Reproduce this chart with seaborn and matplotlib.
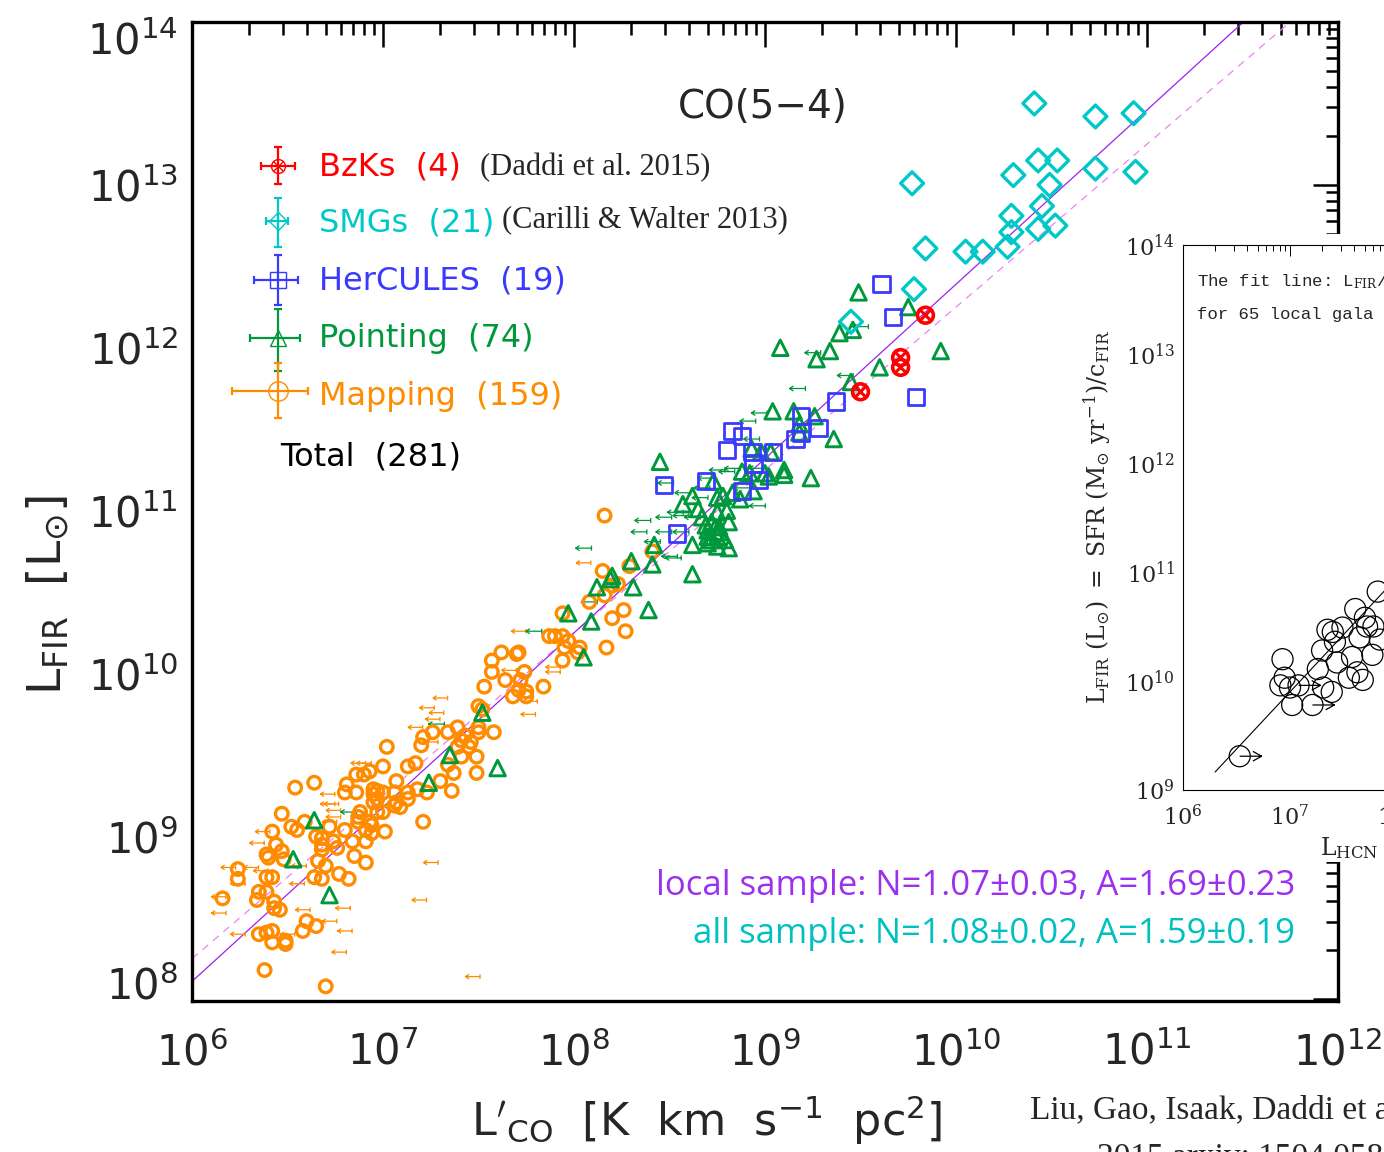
import numpy as np
import matplotlib
matplotlib.use("Agg")
import matplotlib.pyplot as plt
import seaborn as sns
import pandas as pd
from matplotlib.path import Path
from matplotlib.ticker import LogLocator, NullFormatter

sns.set_style("white")
plt.rcParams["font.family"] = ["DejaVu Sans"]
plt.rcParams["mathtext.fontset"] = "dejavuserif"

# ---------------- data (log10 values) ----------------
smg_lco = [10.41, 10.73, 10.93, 9.77, 10.43, 10.53, 10.30, 10.49, 10.73, 10.94, 10.29,
           10.45, 10.43, 10.52, 10.29, 10.27, 10.05, 10.14, 9.84, 9.78, 9.45]
smg_lfir = [13.50, 13.42, 13.44, 13.01, 13.15, 13.15, 13.06, 13.00, 13.10, 13.08, 12.81,
            12.87, 12.73, 12.75, 12.71, 12.62, 12.59, 12.59, 12.61, 12.36, 12.16]

bzk_lco = [9.84, 9.71, 9.71, 9.50]
bzk_lfir = [12.20, 11.94, 11.88, 11.73]

her_lco = [9.61, 9.67, 9.79, 9.37, 9.28, 9.19, 9.16, 9.04, 8.83, 8.88, 8.80, 8.93, 8.94,
           8.97, 8.69, 8.47, 8.88, 8.54, 9.19]
her_lfir = [12.39, 12.19, 11.70, 11.67, 11.51, 11.58, 11.44, 11.36, 11.49, 11.46, 11.37,
            11.36, 11.29, 11.19, 11.18, 11.16, 11.12, 10.86, 11.48]

pnt_lco = [9.49, 9.75, 9.39, 9.46, 9.08, 9.34, 9.27, 9.92, 9.60, 9.45, 9.04, 9.15, 9.26,
           9.18, 9.18, 9.36, 8.45, 8.93, 8.98, 9.03, 8.88, 8.92, 9.00, 9.02, 9.10, 9.10,
           9.24, 8.73, 8.62, 8.57, 8.75, 8.78, 8.83, 8.94, 8.80, 8.75, 8.67, 8.72, 8.74,
           8.76, 8.81, 8.70, 8.62, 8.70, 8.75, 8.81, 8.75, 8.70, 8.42, 8.62, 8.41, 8.30,
           8.12, 8.19, 8.31, 8.39, 7.97, 8.09, 8.05, 7.52, 7.35, 7.60, 7.24, 6.64, 6.53,
           6.72, 8.20, 8.76, 8.72, 8.79, 8.65, 8.87, 8.69]
pnt_lfir = [12.34, 12.25, 12.09, 12.11, 12.00, 11.98, 11.93, 11.98, 11.88, 11.79, 11.61,
            11.61, 11.58, 11.53, 11.48, 11.44, 11.30, 11.38, 11.36, 11.36, 11.24, 11.23,
            11.23, 11.21, 11.25, 11.22, 11.20, 11.18, 11.09, 11.04, 11.08, 11.09, 11.11,
            11.12, 11.00, 10.99, 10.96, 10.93, 10.90, 10.90, 10.93, 10.88, 10.79, 10.80,
            10.78, 10.77, 10.84, 10.84, 10.79, 10.61, 10.67, 10.69, 10.53, 10.58, 10.53,
            10.39, 10.37, 10.32, 10.10, 9.76, 9.50, 9.42, 9.33, 9.10, 8.86, 8.64, 10.60,
            10.87, 10.82, 10.82, 11.01, 11.07, 10.91]

map_lco = [8.16, 8.41, 8.15, 8.29, 8.16, 8.20, 8.23, 8.08, 7.94, 8.20, 8.26, 8.27, 8.17,
           7.87, 7.90, 7.94, 7.97, 7.95, 8.03, 8.02, 7.94, 7.84, 7.71, 7.70, 7.62, 7.57,
           7.57, 7.74, 7.64, 7.72, 7.53, 7.71, 7.75, 7.68, 7.75, 7.50, 7.52, 7.58, 7.50,
           7.50, 7.39, 7.34, 7.26, 7.21, 7.20, 7.17, 7.13, 7.00, 7.02, 7.43, 7.46, 7.41,
           7.39, 7.45, 7.41, 7.34, 7.37, 7.49, 7.49, 7.36, 7.30, 7.23, 7.18, 7.13, 7.13,
           7.07, 7.07, 7.09, 7.06, 7.06, 6.95, 6.95, 6.97, 6.97, 6.95, 7.00, 7.00, 6.81,
           6.80, 6.86, 6.86, 6.90, 6.93, 6.88, 6.87, 6.93, 6.94, 6.97, 7.01, 6.91, 6.84,
           6.91, 6.94, 6.87, 6.72, 6.80, 6.76, 6.85, 6.91, 6.82, 6.77, 6.74, 6.68, 6.68,
           6.68, 6.66, 6.70, 6.64, 6.68, 6.65, 6.52, 6.55, 6.59, 6.64, 6.54, 6.47, 6.42,
           6.44, 6.39, 6.40, 6.48, 6.47, 6.39, 6.42, 6.39, 6.35, 6.34, 6.43, 6.43, 6.46,
           6.24, 6.24, 6.16, 6.60, 6.58, 6.65, 6.42, 6.39, 6.35, 6.49, 6.49, 6.42, 6.38,
           6.70, 7.21]
map_lfir = [10.97, 10.75, 10.63, 10.66, 10.48, 10.54, 10.55, 10.44, 10.37, 10.34, 10.39,
            10.26, 10.16, 10.23, 10.23, 10.23, 10.20, 10.16, 10.16, 10.13, 10.08, 9.92,
            10.13, 10.12, 10.13, 10.08, 10.01, 10.01, 9.96, 9.96, 9.92, 9.90, 9.89, 9.86,
            9.86, 9.80, 9.78, 9.64, 9.67, 9.64, 9.67, 9.64, 9.64, 9.61, 9.56, 9.45, 9.43,
            9.43, 9.55, 9.62, 9.58, 9.59, 9.55, 9.55, 9.49, 9.44, 9.39, 9.49, 9.39, 9.28,
            9.34, 9.27, 9.29, 9.27, 9.23, 9.34, 9.21, 9.18, 9.19, 9.27, 9.29, 9.26, 9.28,
            9.23, 9.21, 9.27, 9.15, 9.32, 9.27, 9.27, 9.38, 9.38, 9.40, 9.15, 9.12, 9.09,
            9.07, 9.15, 9.03, 8.97, 8.97, 9.04, 9.02, 9.09, 9.06, 9.04, 8.93, 8.88, 8.84,
            8.74, 8.77, 8.97, 8.99, 8.95, 8.92, 8.85, 8.82, 8.75, 8.74, 9.00, 9.06, 9.04,
            9.09, 9.33, 9.30, 9.14, 9.03, 8.95, 8.89, 8.87, 8.86, 8.91, 8.75, 8.75, 8.66,
            8.66, 8.61, 8.60, 8.56, 8.55, 8.80, 8.74, 8.62, 8.48, 8.42, 8.45, 8.42, 8.41,
            8.40, 8.36, 8.34, 8.35, 8.18, 8.08, 9.09]

map_ul_lco = [8.05, 7.71, 7.89, 7.89, 7.66, 7.77, 7.76, 7.30, 7.23, 7.28, 7.26, 7.17, 7.25,
              6.87, 6.90, 6.71, 6.71, 6.73, 6.74, 6.74, 6.72, 6.37, 6.34, 6.19, 6.31, 6.36,
              6.24, 6.14, 6.14, 6.24, 6.56, 6.55, 6.58, 6.50, 6.72, 6.80, 6.79, 6.77, 7.25,
              7.19, 7.47]
map_ul_lfir = [10.68, 10.26, 10.04, 10.01, 10.02, 9.83, 9.75, 9.85, 9.79, 9.76, 9.72, 9.67,
               9.58, 9.45, 9.45, 9.26, 9.20, 9.20, 9.16, 9.12, 9.09, 9.03, 8.96, 8.81, 8.81,
               8.79, 8.71, 8.63, 8.53, 8.40, 8.82, 8.71, 8.55, 8.40, 8.48, 8.42, 8.56, 8.29,
               8.84, 8.61, 8.14]

pnt_ul_lco = [8.05, 8.36, 8.47, 8.53, 8.47, 8.34, 8.41, 8.50, 8.08, 7.79, 7.28, 6.82, 9.25,
              9.42, 9.17, 8.97, 8.91, 8.93, 8.96, 8.80, 8.83, 8.75, 8.88, 8.96, 8.67, 8.57,
              8.52, 9.50, 8.69, 8.66, 8.56, 8.62, 8.56, 8.48]
pnt_ul_lfir = [10.77, 10.94, 10.96, 10.99, 10.87, 10.87, 10.81, 10.72, 10.44, 10.26, 9.69,
               9.15, 11.97, 11.83, 11.75, 11.60, 11.55, 11.44, 11.26, 11.24, 11.26, 11.25,
               11.14, 11.03, 11.14, 11.11, 10.71, 12.13, 11.20, 11.08, 10.97, 10.96, 10.87,
               11.17]

fit_local = (1.07, 1.69)   # N, A  (solid)
fit_guide = (1.00, 2.25)   # dashed guide line

# inset (Gao & Solomon 2004 HCN panel)
hcn_lx = [6.53, 6.93, 6.91, 6.95, 7.00, 7.02, 7.21, 7.08, 7.26, 7.31, 7.39, 7.30, 7.35,
          7.42, 7.49, 7.44, 7.58, 7.55, 7.61, 7.65, 7.63, 7.68, 7.70, 7.77, 7.78, 7.82,
          7.84, 7.72, 7.40]
hcn_ly = [9.31, 10.20, 9.96, 10.03, 9.94, 9.78, 9.78, 9.96, 10.11, 9.94, 9.90, 10.28,
          10.47, 10.36, 10.49, 10.17, 10.22, 10.03, 10.66, 10.40, 10.08, 10.01, 10.58,
          10.24, 10.50, 10.82, 10.38, 10.50, 10.45]
hcn_lim_lx = [6.53, 7.21, 7.08]
hcn_lim_ly = [9.31, 9.78, 9.96]
hcn_fit = (1.05, 2.55)

legend_names = ["BzKs  (4)", "SMGs  (21)", "HerCULES  (19)", "Pointing  (74)", "Mapping  (159)"]

ORANGE = "#FF8C00"
GREEN = "#00983C"
BLUE = "#3A3AFF"
CYAN = "#00C8C8"
RED = "#FF0000"
PURPLE = "#A020F0"
VIOLET = "#EE82EE"

W, H = 1384, 1152
fig = plt.figure(figsize=(W / 100, H / 100), dpi=100)

ax = fig.add_axes([192 / W, 1 - 1001 / H, (1338 - 192) / W, (1001 - 22) / H])
ax.set_xscale("log")
ax.set_yscale("log")

# custom markers
arrow_path = Path([(1, -0.32), (1, 0.32), (1, 0), (-1, 0), (-0.5, 0.32), (-1, 0), (-0.5, -0.32)],
                  [Path.MOVETO, Path.LINETO, Path.MOVETO, Path.LINETO, Path.MOVETO, Path.LINETO, Path.LINETO])
rarrow_path = Path([(0, 0), (1, 0), (0.6, 0.22), (1, 0), (0.6, -0.22)],
                   [Path.MOVETO, Path.LINETO, Path.MOVETO, Path.LINETO, Path.LINETO])


def scat(a, lx, ly, marker, s, color, lw, fill=False, z=3):
    df = pd.DataFrame({"x": 10 ** np.asarray(lx, float), "y": 10 ** np.asarray(ly, float)})
    sns.scatterplot(data=df, x="x", y="y", ax=a, marker=marker, s=s, color=color,
                    linewidth=lw, legend=False, zorder=z)
    coll = a.collections[-1]
    coll.set_facecolor(color if fill else "none")
    coll.set_edgecolor(color)
    coll.set_linewidth(lw)


# fit lines
xs = np.array([1e6, 1e12])
for (n, a0), col, ls, lw in [(fit_guide, VIOLET, (0, (6, 5)), 0.9), (fit_local, PURPLE, "-", 0.9)]:
    ys = 10 ** (n * np.log10(xs) + a0)
    sns.lineplot(x=xs, y=ys, ax=ax, color=col, linestyle=ls, linewidth=lw, zorder=2)

scat(ax, map_ul_lco, map_ul_lfir, arrow_path, 110, ORANGE, 0.9, z=2)
scat(ax, pnt_ul_lco, pnt_ul_lfir, arrow_path, 130, GREEN, 0.9, z=2)
scat(ax, map_lco, map_lfir, "o", 82, ORANGE, 2.4)
scat(ax, pnt_lco, pnt_lfir, "^", 125, GREEN, 2.1)
scat(ax, her_lco, her_lfir, "s", 135, BLUE, 2.0)
scat(ax, smg_lco, smg_lfir, "D", 135, CYAN, 2.4)
scat(ax, bzk_lco, bzk_lfir, "o", 130, RED, 2.6)
scat(ax, bzk_lco, bzk_lfir, "x", 50, RED, 2.2)

ax.set_xlim(1e6, 1e12)
ax.set_ylim(10 ** 7.99, 1e14)
ax.set_xlabel("")
ax.set_ylabel("")
ax.set_xticks([10.0 ** k for k in range(6, 13)])
ax.set_xticklabels([r"$\mathsf{10^{%d}}$" % k for k in range(6, 13)])
ax.set_yticks([10.0 ** k for k in range(8, 15)])
ax.set_yticklabels([r"$\mathsf{10^{%d}}$" % k for k in range(8, 15)])
ax.xaxis.set_minor_locator(LogLocator(base=10, subs=np.arange(2, 10)))
ax.yaxis.set_minor_locator(LogLocator(base=10, subs=np.arange(2, 10)))
ax.xaxis.set_minor_formatter(NullFormatter())
ax.yaxis.set_minor_formatter(NullFormatter())
ax.tick_params(which="both", direction="in", top=True, right=True, width=1.8, color="black")
ax.tick_params(which="major", length=18, labelsize=30)
ax.tick_params(which="minor", length=9)
ax.tick_params(axis="x", which="major", pad=22)
ax.tick_params(axis="y", which="major", pad=10)
ylabs = ax.yaxis.get_majorticklabels()
ylabs[0].set_verticalalignment("baseline")
ylabs[-1].set_verticalalignment("top")
for sp in ax.spines.values():
    sp.set_linewidth(2.4)
    sp.set_color("black")

# cover box behind inset
cover = fig.add_axes([1065 / W, 1 - 862 / H, (W - 1065) / W + 0.02, (862 - 234) / H], zorder=5)
cover.set_facecolor("white")
cover.set_xticks([])
cover.set_yticks([])
for sp in cover.spines.values():
    sp.set_visible(False)

# inset
ins = fig.add_axes([1183 / W, 1 - 790 / H, 535 / W, 545 / H], zorder=6)
ins.set_xscale("log")
ins.set_yscale("log")
hx = np.array([10 ** 6.30, 1e11])
sns.lineplot(x=hx, y=10 ** (hcn_fit[0] * np.log10(hx) + hcn_fit[1]), ax=ins, color="black", linewidth=0.8)
scat(ins, hcn_lim_lx, hcn_lim_ly, rarrow_path, 1000, "black", 0.9)
scat(ins, hcn_lx, hcn_ly, "o", 230, "black", 0.9)
ins.set_xlim(1e6, 1e11)
ins.set_ylim(1e9, 1e14)
ins.set_xlabel("")
ins.set_ylabel("")
ins.set_xticks([10.0 ** k for k in range(6, 12)])
ins.set_xticklabels([r"$\mathrm{10^{%d}}$" % k for k in range(6, 12)], fontsize=16)
ins.set_yticks([10.0 ** k for k in range(9, 15)])
ins.set_yticklabels([r"$\mathrm{10^{%d}}$" % k for k in range(9, 15)], fontsize=16)
ins.xaxis.set_minor_locator(LogLocator(base=10, subs=np.arange(2, 10)))
ins.yaxis.set_minor_locator(LogLocator(base=10, subs=np.arange(2, 10)))
ins.xaxis.set_minor_formatter(NullFormatter())
ins.yaxis.set_minor_formatter(NullFormatter())
ins.tick_params(which="both", direction="in", top=True, right=True, width=0.7, color="black")
ins.tick_params(which="major", length=8)
ins.tick_params(axis="x", which="major", pad=10)
ins.tick_params(axis="y", which="major", pad=6)
ins.tick_params(which="minor", length=4)
for sp in ins.spines.values():
    sp.set_linewidth(0.8)
    sp.set_color("black")
ins.text(0.026, 0.932, r"The fit line: L$_{\rm FIR}$/", transform=ins.transAxes,
         family="Liberation Mono", fontsize=12.5, va="center", ha="left")
ins.text(0.026, 0.873, "for 65 local gala", transform=ins.transAxes,
         family="Liberation Mono", fontsize=12.5, va="center", ha="left")

# overlay (pixel coordinates) for texts and the legend keys
lay = fig.add_axes([0, 0, 1, 1], zorder=10)
lay.set_xlim(0, W)
lay.set_ylim(H, 0)
lay.axis("off")

lay.text(1097, 517, r"$\mathrm{L_{FIR}\ (L_{\odot})\ =\ SFR\ (M_{\odot}\ yr^{-1})/c_{FIR}}$",
         rotation=90, ha="center", va="center", fontsize=17)
lay.text(1320, 848, r"$\mathrm{L_{HCN}\ (}$", ha="left", va="center", fontsize=17)

lay.text(763, 107, "CO(5\u22124)", ha="center", va="center", fontsize=28)
lay.text(48, 595, r"$\mathsf{L_{FIR}\ \ [L_{\odot}]}$", rotation=90, ha="center", va="center", fontsize=34)
lay.text(707, 1120, r"$\mathsf{L'_{CO}\ \ [K\ \ km\ \ s^{-1}\ \ pc^{2}]}$", ha="center", va="center", fontsize=32)

leg_cols = [RED, CYAN, BLUE, GREEN, ORANGE]
leg_y = [167, 223, 281, 339, 396]
key_y = [166, 221, 280, 338, 391]
hx_l = [17, 12, 24, 28, 46]
hx_r = [17, 10, 20, 22, 30]
vy_err = [(19, 18), (23, 26), (25, 25), (29, 33), (28, 27)]
key_marker = ["o", "D", "s", "^", "o"]
key_ms = [10, 9, 11, 11, 14]
for i in range(5):
    lay.errorbar([278], [key_y[i]], xerr=[[hx_l[i]], [hx_r[i]]],
                 yerr=[[vy_err[i][0]], [vy_err[i][1]]], fmt="none", ecolor=leg_cols[i],
                 elinewidth=1.6, capsize=3, capthick=1.6)
    lay.plot([278], [key_y[i]], marker=key_marker[i], ms=key_ms[i], mfc="none",
             mec=leg_cols[i], mew=1.0, ls="none")
    lay.text(319, leg_y[i], legend_names[i], color=leg_cols[i], fontsize=23, va="center", ha="left")
lay.plot([278], [key_y[0]], marker="x", ms=7, mec=RED, mew=1.0, ls="none")
lay.text(480, 168, "(Daddi et al. 2015)", family="Liberation Serif", fontsize=22, va="center")
lay.text(502, 220, "(Carilli & Walter 2013)", family="Liberation Serif", fontsize=22, va="center")
lay.text(280, 457, "Total  (281)", color="black", fontsize=23, va="center", ha="left")

lay.text(1295, 886, "local sample: N=1.07\u00b10.03, A=1.69\u00b10.23", color="#9B30F0",
         family="Open Sans", fontsize=25, ha="right", va="center")
lay.text(1295, 934, "all sample: N=1.08\u00b10.02, A=1.59\u00b10.19", color="#00C0C0",
         family="Open Sans", fontsize=25, ha="right", va="center")

lay.text(1030, 1110, "Liu, Gao, Isaak, Daddi et al.", family="Liberation Serif", fontsize=24,
         va="center", ha="left")
lay.text(1097, 1158, "2015 arxiv: 1504.05897", family="Liberation Serif", fontsize=24,
         va="center", ha="left")

fig.savefig("out.png", dpi=100)
